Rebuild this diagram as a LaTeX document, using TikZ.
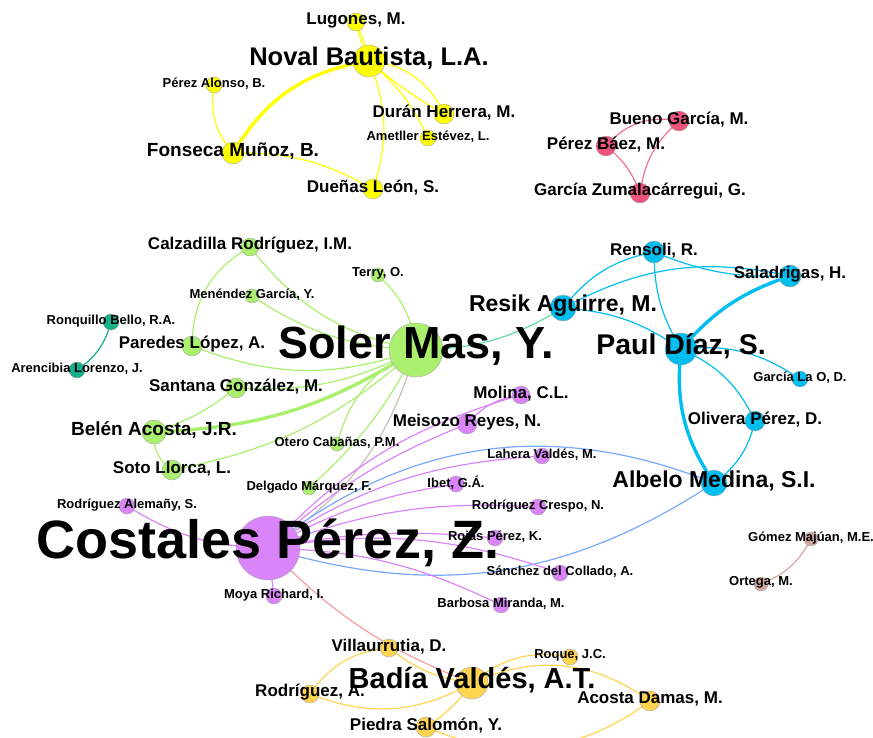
\documentclass[tikz,border=0pt]{standalone}
\usepackage{fontspec}
\setmainfont{Liberation Sans}

\definecolor{ylwC}{RGB}{255,255,0}
\definecolor{pnkC}{RGB}{236,84,124}
\definecolor{pnkL}{RGB}{242,112,148}
\definecolor{grnC}{RGB}{170,240,110}
\definecolor{tealC}{RGB}{20,176,140}
\definecolor{bluC}{RGB}{0,190,240}
\definecolor{purC}{RGB}{218,132,250}
\definecolor{gldC}{RGB}{255,212,80}
\definecolor{brnC}{RGB}{212,168,162}
\definecolor{mixBlu}{RGB}{120,168,255}
\definecolor{mixGry}{RGB}{200,192,178}
\definecolor{mixTeal}{RGB}{100,220,160}
\definecolor{mixSal}{RGB}{244,160,160}

\pgfdeclarelayer{edges}
\pgfdeclarelayer{labels}
\pgfsetlayers{edges,main,labels}

\begin{document}
\begin{tikzpicture}[x=1pt,y=1pt,
  au/.style={circle,draw=black!35,line width=0.4pt,inner sep=0pt,minimum size=#1},
  txt/.style={font=\fontsize{#1}{#1}\selectfont\bfseries,inner sep=0pt,yshift={0.1*#1}},
  lnk/.style={line width=1.2pt},
  heavy/.style={line width=3.4pt}]
  \useasboundingbox (0,0) rectangle (873,-737);

  % --- Yellow cluster ---
  \node[au=18pt,fill=ylwC] (lugones) at (356,-22) {};
  \node[au=32pt,fill=ylwC] (noval) at (369,-61) {};
  \node[au=16pt,fill=ylwC] (perezal) at (214,-85) {};
  \node[au=20pt,fill=ylwC] (duran) at (444,-114) {};
  \node[au=16pt,fill=ylwC] (ametller) at (428,-138) {};
  \node[au=22pt,fill=ylwC] (fonseca) at (233,-153) {};
  \node[au=20pt,fill=ylwC] (duenas) at (373,-189) {};

  % --- Pink cluster ---
  \node[au=20pt,fill=pnkC] (bueno) at (679,-121) {};
  \node[au=20pt,fill=pnkC] (perezba) at (606,-146) {};
  \node[au=20pt,fill=pnkC] (zumala) at (640,-193) {};

  % --- Green cluster ---
  \node[au=18pt,fill=grnC] (calzad) at (250,-247) {};
  \node[au=14pt,fill=grnC] (terry) at (378,-275) {};
  \node[au=14pt,fill=grnC] (menendez) at (252,-296) {};
  \node[au=20pt,fill=grnC] (paredes) at (192,-346) {};
  \node[au=54pt,fill=grnC] (soler) at (416,-350) {};
  \node[au=20pt,fill=grnC] (santana) at (236,-388) {};
  \node[au=24pt,fill=grnC] (belen) at (154,-432) {};
  \node[au=14pt,fill=grnC] (otero) at (337,-444) {};
  \node[au=20pt,fill=grnC] (soto) at (172,-470) {};
  \node[au=14pt,fill=grnC] (delgado) at (309,-488) {};

  % --- Teal pair ---
  \node[au=16pt,fill=tealC] (ronquillo) at (111,-322) {};
  \node[au=16pt,fill=tealC] (arencibia) at (77,-370) {};

  % --- Blue cluster ---
  \node[au=22pt,fill=bluC] (rensoli) at (654,-252) {};
  \node[au=22pt,fill=bluC] (saladr) at (790,-276) {};
  \node[au=26pt,fill=bluC] (resik) at (563,-308) {};
  \node[au=32pt,fill=bluC] (paul) at (681,-349) {};
  \node[au=16pt,fill=bluC] (garcialao) at (800,-379) {};
  \node[au=20pt,fill=bluC] (olivera) at (755,-421) {};
  \node[au=26pt,fill=bluC] (albelo) at (714,-483) {};

  % --- Purple cluster ---
  \node[au=64pt,fill=purC] (costales) at (268,-548) {};
  \node[au=18pt,fill=purC] (molina) at (521,-395) {};
  \node[au=20pt,fill=purC] (meisozo) at (467,-424) {};
  \node[au=16pt,fill=purC] (lahera) at (542,-456) {};
  \node[au=16pt,fill=purC] (ibet) at (456,-484) {};
  \node[au=16pt,fill=purC] (rcrespo) at (538,-507) {};
  \node[au=16pt,fill=purC] (alemany) at (127,-506) {};
  \node[au=16pt,fill=purC] (rojas) at (495,-538) {};
  \node[au=16pt,fill=purC] (sanchez) at (560,-573) {};
  \node[au=16pt,fill=purC] (moya) at (274,-596) {};
  \node[au=16pt,fill=purC] (barbosa) at (501,-605) {};

  % --- Gold cluster ---
  \node[au=18pt,fill=gldC] (villa) at (389,-648) {};
  \node[au=16pt,fill=gldC] (roque) at (570,-657) {};
  \node[au=32pt,fill=gldC] (badia) at (472,-683) {};
  \node[au=18pt,fill=gldC] (rodrig) at (310,-694) {};
  \node[au=20pt,fill=gldC] (acosta) at (650,-701) {};
  \node[au=20pt,fill=gldC] (piedra) at (426,-727) {};

  % --- Brown pair ---
  \node[au=14pt,fill=brnC] (gomez) at (811,-539) {};
  \node[au=14pt,fill=brnC] (ortega) at (761,-584) {};

  % --- Links, behind the nodes ---
  \begin{pgfonlayer}{edges}
    \draw[heavy,ylwC] (noval.center) to[bend right=25] (fonseca.center);
    \draw[lnk,ylwC] (noval.center) to[bend left=6] (lugones.center);
    \draw[lnk,ylwC] (noval.center) to[bend right=6] (lugones.center);
    \draw[lnk,ylwC] (noval.center) to[bend left=30] (duran.center);
    \draw[lnk,ylwC] (noval.center) to[bend right=5] (duran.center);
    \draw[lnk,ylwC] (noval.center) to[bend left=12] (ametller.center);
    \draw[lnk,ylwC] (noval.center) to[bend left=20] (duenas.center);
    \draw[lnk,ylwC] (perezal.center) to[bend right=25] (fonseca.center);
    \draw[lnk,ylwC] (fonseca.center) to[bend left=15] (duenas.center);

    \draw[lnk,pnkL] (perezba.center) to[bend left=30] (bueno.center);
    \draw[lnk,pnkL] (perezba.center) to[bend left=15] (zumala.center);
    \draw[lnk,pnkL] (bueno.center) to[bend right=20] (zumala.center);

    \draw[lnk,grnC] (calzad.center) to[bend right=20] (soler.center);
    \draw[lnk,grnC] (calzad.center) to[bend right=30] (paredes.center);
    \draw[lnk,grnC] (terry.center) to[bend left=20] (soler.center);
    \draw[lnk,grnC] (menendez.center) to[bend right=15] (soler.center);
    \draw[lnk,grnC] (paredes.center) to[bend right=20] (soler.center);
    \draw[lnk,grnC] (santana.center) to[bend right=15] (soler.center);
    \draw[lnk,grnC] (santana.center) to[bend left=10] (belen.center);
    \draw[heavy,grnC] (belen.center) to[bend right=15] (soler.center);
    \draw[lnk,grnC] (belen.center) to[bend right=30] (soto.center);
    \draw[lnk,grnC] (soto.center) to[bend right=15] (soler.center);
    \draw[lnk,grnC] (otero.center) to[bend left=25] (soler.center);
    \draw[lnk,grnC] (delgado.center) to[bend right=10] (soler.center);
    \draw[lnk,mixGry] (soler.center) to[bend left=20] (costales.center);
    \draw[lnk,mixTeal] (soler.center) to[bend right=15] (resik.center);

    \draw[lnk,tealC] (ronquillo.center) to[bend left=20] (arencibia.center);

    \draw[lnk,bluC] (resik.center) to[bend left=20] (rensoli.center);
    \draw[lnk,bluC] (resik.center) to[bend left=20] (saladr.center);
    \draw[lnk,bluC] (rensoli.center) to[bend right=12] (saladr.center);
    \draw[lnk,bluC] (rensoli.center) to[bend right=15] (paul.center);
    \draw[lnk,bluC] (resik.center) to[bend left=15] (paul.center);
    \draw[heavy,bluC] (paul.center) to[bend left=15] (saladr.center);
    \draw[lnk,bluC] (paul.center) to[bend left=20] (garcialao.center);
    \draw[lnk,bluC] (paul.center) to[bend left=20] (olivera.center);
    \draw[heavy,bluC] (paul.center) to[bend right=20] (albelo.center);
    \draw[lnk,bluC] (olivera.center) to[bend left=20] (albelo.center);
    \draw[lnk,mixBlu] (costales.center) to[bend left=30] (albelo.center);
    \draw[lnk,mixBlu] (costales.center) to[bend right=25] (albelo.center);

    \draw[lnk,purC] (costales.center) to[bend left=15] (molina.center);
    \draw[lnk,purC] (molina.center) to[bend right=20] (meisozo.center);
    \draw[lnk,purC] (costales.center) to[bend left=10] (meisozo.center);
    \draw[lnk,purC] (costales.center) to[bend left=15] (lahera.center);
    \draw[lnk,purC] (costales.center) to[bend left=10] (ibet.center);
    \draw[lnk,purC] (costales.center) to[bend left=12] (rcrespo.center);
    \draw[lnk,purC] (costales.center) to[bend left=8] (rojas.center);
    \draw[lnk,purC] (costales.center) to[bend left=14] (sanchez.center);
    \draw[lnk,purC] (costales.center) to[bend left=12] (barbosa.center);
    \draw[lnk,purC] (alemany.center) to[bend right=15] (costales.center);
    \draw[lnk,purC] (costales.center) -- (moya.center);
    \draw[lnk,mixSal] (costales.center) to[bend right=12] (badia.center);

    \draw[lnk,gldC] (villa.center) to[bend right=15] (badia.center);
    \draw[lnk,gldC] (villa.center) to[bend right=25] (rodrig.center);
    \draw[lnk,gldC] (rodrig.center) to[bend right=25] (badia.center);
    \draw[lnk,gldC] (badia.center) to[bend left=25] (roque.center);
    \draw[lnk,gldC] (badia.center) to[bend left=30] (acosta.center);
    \draw[lnk,gldC] (badia.center) to[bend left=10] (piedra.center);
    \draw[lnk,gldC] (piedra.center) to[bend right=30] (acosta.center);

    \draw[lnk,brnC] (gomez.center) to[bend left=20] (ortega.center);
  \end{pgfonlayer}

  % --- Names on top ---
  \begin{pgfonlayer}{labels}
    \node[txt=17] (lugones-l) at (lugones) {Lugones, M.};
    \node[txt=25.5] (noval-l) at (noval) {Noval Bautista, L.A.};
    \node[txt=13] (perezal-l) at (perezal) {Pérez Alonso, B.};
    \node[txt=17] (duran-l) at (duran) {Durán Herrera, M.};
    \node[txt=13] (ametller-l) at (ametller) {Ametller Estévez, L.};
    \node[txt=19] (fonseca-l) at (fonseca) {Fonseca Muñoz, B.};
    \node[txt=17] (duenas-l) at (duenas) {Dueñas León, S.};

    \node[txt=17] (bueno-l) at (bueno) {Bueno García, M.};
    \node[txt=17] (perezba-l) at (perezba) {Pérez Báez, M.};
    \node[txt=17] (zumala-l) at (zumala) {García Zumalacárregui, G.};

    \node[txt=17] (calzad-l) at (calzad) {Calzadilla Rodríguez, I.M.};
    \node[txt=13] (terry-l) at (terry) {Terry, O.};
    \node[txt=13] (menendez-l) at (menendez) {Menéndez García, Y.};
    \node[txt=17] (paredes-l) at (paredes) {Paredes López, A.};
    \node[txt=45] (soler-l) at (soler) {Soler Mas, Y.};
    \node[txt=17] (santana-l) at (santana) {Santana González, M.};
    \node[txt=19] (belen-l) at (belen) {Belén Acosta, J.R.};
    \node[txt=13] (otero-l) at (otero) {Otero Cabañas, P.M.};
    \node[txt=17] (soto-l) at (soto) {Soto Llorca, L.};
    \node[txt=13] (delgado-l) at (delgado) {Delgado Márquez, F.};

    \node[txt=13] (ronquillo-l) at (ronquillo) {Ronquillo Bello, R.A.};
    \node[txt=13] (arencibia-l) at (arencibia) {Arencibia Lorenzo, J.};

    \node[txt=17] (rensoli-l) at (rensoli) {Rensoli, R.};
    \node[txt=17] (saladr-l) at (saladr) {Saladrigas, H.};
    \node[txt=23] (resik-l) at (resik) {Resik Aguirre, M.};
    \node[txt=28.5] (paul-l) at (paul) {Paul Díaz, S.};
    \node[txt=13] (garcialao-l) at (garcialao) {García La O, D.};
    \node[txt=17] (olivera-l) at (olivera) {Olivera Pérez, D.};
    \node[txt=23] (albelo-l) at (albelo) {Albelo Medina, S.I.};

    \node[txt=54] (costales-l) at (costales) {Costales Pérez, Z.};
    \node[txt=17] (molina-l) at (molina) {Molina, C.L.};
    \node[txt=17] (meisozo-l) at (meisozo) {Meisozo Reyes, N.};
    \node[txt=13] (lahera-l) at (lahera) {Lahera Valdés, M.};
    \node[txt=13] (ibet-l) at (ibet) {Ibet, G.Á.};
    \node[txt=13] (rcrespo-l) at (rcrespo) {Rodríguez Crespo, N.};
    \node[txt=13] (alemany-l) at (alemany) {Rodríguez Alemañy, S.};
    \node[txt=13] (rojas-l) at (rojas) {Rojas Pérez, K.};
    \node[txt=13] (sanchez-l) at (sanchez) {Sánchez del Collado, A.};
    \node[txt=13] (moya-l) at (moya) {Moya Richard, I.};
    \node[txt=13] (barbosa-l) at (barbosa) {Barbosa Miranda, M.};

    \node[txt=17] (villa-l) at (villa) {Villaurrutia, D.};
    \node[txt=13] (roque-l) at (roque) {Roque, J.C.};
    \node[txt=29] (badia-l) at (badia) {Badía Valdés, A.T.};
    \node[txt=17] (rodrig-l) at (rodrig) {Rodríguez, A.};
    \node[txt=17] (acosta-l) at (acosta) {Acosta Damas, M.};
    \node[txt=17] (piedra-l) at (piedra) {Piedra Salomón, Y.};

    \node[txt=13] (gomez-l) at (gomez) {Gómez Majúan, M.E.};
    \node[txt=13] (ortega-l) at (ortega) {Ortega, M.};
  \end{pgfonlayer}
\end{tikzpicture}
\end{document}
